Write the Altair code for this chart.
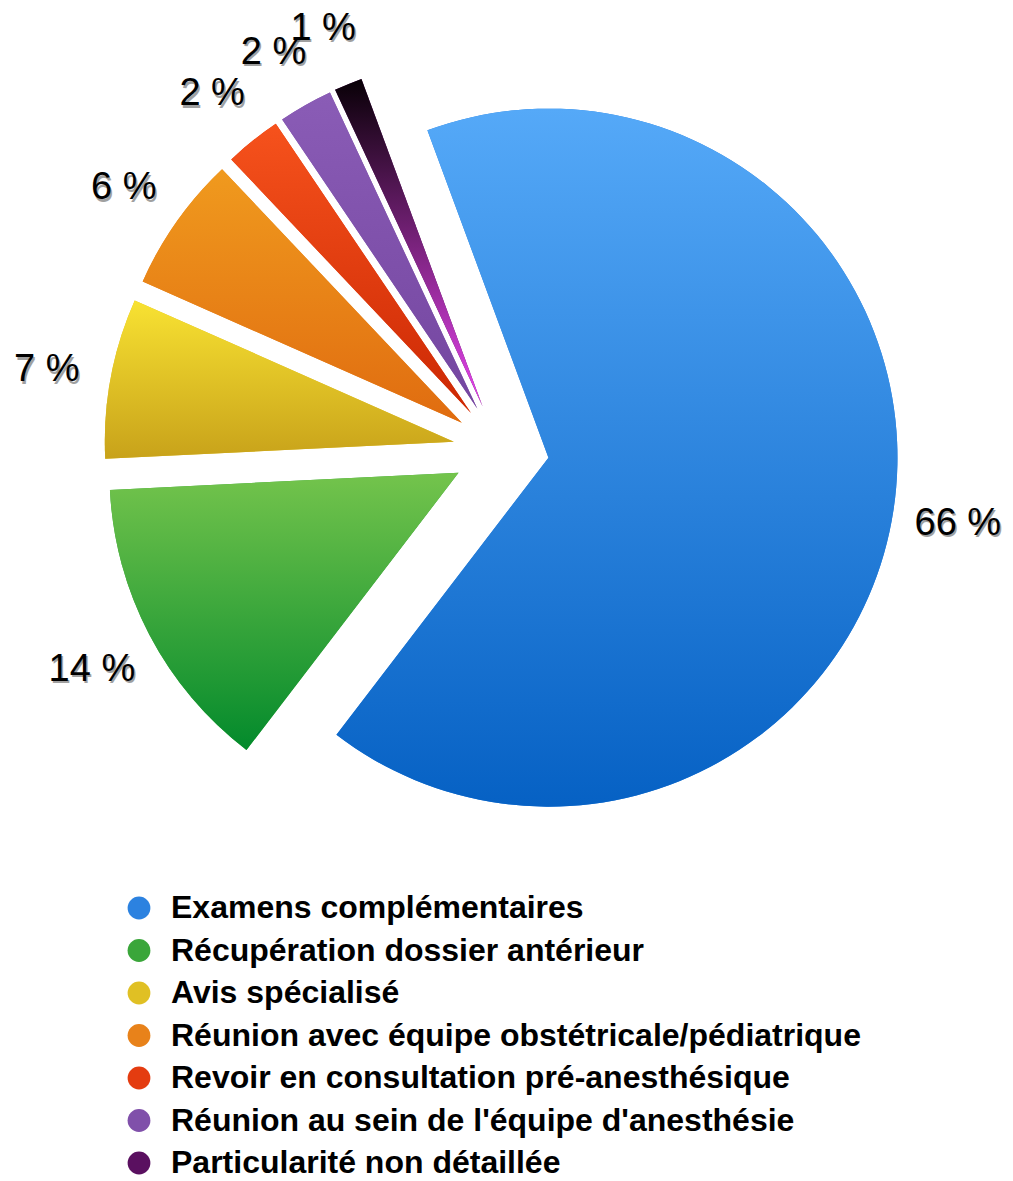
import altair as alt
import pandas as pd

categories = [
    "Examens complémentaires",
    "Récupération dossier antérieur",
    "Avis spécialisé",
    "Réunion avec équipe obstétricale/pédiatrique",
    "Revoir en consultation pré-anesthésique",
    "Réunion au sein de l'équipe d'anesthésie",
    "Particularité non détaillée",
]
values = [65.9, 13.8, 7.4, 6.3, 2.6, 2.5, 1.3]
labels = ["66 %", "14 %", "7 %", "6 %", "2 %", "2 %", "1 %"]
mid_colors = ["#2c82e0", "#3aa63a", "#e0c024", "#e8821a", "#e43c10", "#8050aa", "#5a1060"]
top_colors = ["#55a9f8", "#74c44c", "#f8e232", "#f09a1e", "#f6521c", "#8a5cb6", "#080006"]
bottom_colors = ["#0661c4", "#038a2c", "#c8a21a", "#e06c10", "#cc2804", "#7446a0", "#e844f0"]

df = pd.DataFrame({
    "cat": categories,
    "value": values,
    "label": labels,
    "order": list(range(len(categories))),
})

W, H = 997, 1172
CX, CY = 493, 442.5          # pie centre inside the plot area (pixels)
START = -0.3543              # start angle of the first slice (radians)
EXPLODE = 48
LABEL_R = 462
RADIUS = 349

xscale = alt.Scale(domain=[-CX, W - CX])
yscale = alt.Scale(domain=[-(H - CY), CY])

base = alt.Chart(df).transform_joinaggregate(
    total="sum(value)"
).transform_window(
    cum="sum(value)", sort=[alt.SortField("order")], frame=[None, 0]
).transform_calculate(
    t1=f"{START} + 2*PI*datum.cum/datum.total",
).transform_calculate(
    t0="datum.t1 - 2*PI*datum.value/datum.total",
).transform_calculate(
    mid="(datum.t0 + datum.t1)/2",
).transform_calculate(
    ex=f"{EXPLODE}*sin(datum.mid)",
    ey=f"{EXPLODE}*cos(datum.mid)",
    lx=f"{LABEL_R}*sin(datum.mid)",
    ly=f"{LABEL_R}*cos(datum.mid)",
)

pos = dict(
    x=alt.X("ex:Q", scale=xscale, axis=None),
    y=alt.Y("ey:Q", scale=yscale, axis=None),
    theta=alt.Theta("t0:Q", scale=None),
    theta2=alt.Theta2("t1:Q"),
)

legend_layer = base.mark_arc(radius=RADIUS).encode(
    color=alt.Color(
        "cat:N",
        scale=alt.Scale(domain=categories, range=mid_colors),
        sort=categories,
        legend=alt.Legend(
            orient="none",
            legendX=115,
            legendY=884,
            title=None,
            symbolType="circle",
            symbolSize=520,
            symbolStrokeWidth=0,
            symbolOpacity=1,
            labelFont="Liberation Sans",
            labelFontSize=32,
            labelFontWeight="bold",
            labelColor="black",
            labelOffset=16,
            labelLimit=0,
            rowPadding=10.5,
        ),
    ),
    **pos,
)

layers = [legend_layer]
for cat, tc, bc in zip(categories, top_colors, bottom_colors):
    grad = alt.LinearGradient(
        gradient="linear",
        stops=[alt.GradientStop(color=tc, offset=0), alt.GradientStop(color=bc, offset=1)],
        x1=0, x2=0, y1=0, y2=1,
    )
    layers.append(
        base.transform_filter(alt.datum.cat == cat)
        .mark_arc(radius=RADIUS, color=grad)
        .encode(**pos)
    )

text_pos = dict(
    x=alt.X("lx:Q", scale=xscale, axis=None),
    y=alt.Y("ly:Q", scale=yscale, axis=None),
    text="label:N",
)
shadow = base.mark_text(
    font="Liberation Sans", fontSize=38, color="#444444", opacity=0.5, dx=1.5, dy=7
).encode(**text_pos)
txt = base.mark_text(
    font="Liberation Sans", fontSize=38, color="black", dy=4.5
).encode(**text_pos)
layers += [shadow, txt]

chart = alt.layer(*layers).properties(
    width=W, height=H, padding=0, autosize=alt.AutoSizeParams(type="none")
).configure_view(stroke=None)

chart.save("out.html", embed_options={"renderer": "svg", "actions": False})
